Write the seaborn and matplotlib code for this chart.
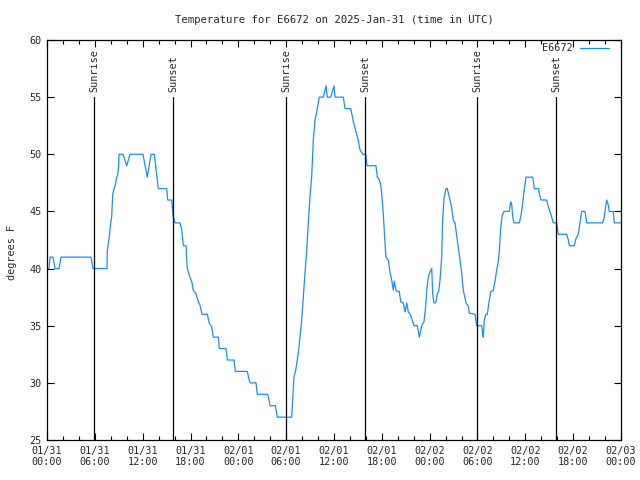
import numpy as np
import pandas as pd
import seaborn as sns
import matplotlib
matplotlib.use("Agg")
import matplotlib.pyplot as plt
from matplotlib.ticker import MultipleLocator

# hours since 2025-01-31 00:00 UTC
hours = [0, 0.25, 0.38, 0.75, 1.00, 1.51, 1.76, 5.52, 5.77, 7.53,
         7.56, 7.81, 7.99, 8.12, 8.24, 8.41, 8.57, 8.74, 8.87, 8.99,
         9.03, 9.53, 10.00, 10.41, 12.04, 12.58, 13.05, 13.46, 13.96, 15.01,
         15.14, 15.64, 15.84, 16.06, 16.68, 16.90, 17.10, 17.44, 17.52, 17.60,
         17.94, 18.15, 18.35, 18.69, 18.98, 19.19, 19.44, 20.11, 20.36, 20.66,
         20.86, 21.49, 21.61, 22.45, 22.62, 23.46, 23.62, 25.13, 25.30, 25.46,
         26.22, 26.38, 27.68, 27.85, 27.97, 28.64, 28.89, 30.69, 30.82, 30.98,
         31.20, 31.52, 31.74, 31.95, 32.15, 32.36, 32.58, 32.78, 32.99, 33.20,
         33.40, 33.62, 33.83, 34.16, 34.66, 35.00, 35.16, 35.59, 36.00, 36.13,
         37.17, 37.38, 38.09, 38.22, 38.42, 38.76, 39.05, 39.26, 39.60, 39.98,
         40.14, 41.27, 41.43, 41.68, 41.86, 41.98, 42.18, 42.40, 42.52, 42.81,
         43.02, 43.24, 43.44, 43.56, 43.78, 43.94, 44.19, 44.37, 44.69, 44.91,
         45.12, 45.32, 45.62, 45.87, 46.03, 46.45, 46.70, 47.00, 47.29, 47.50,
         47.63, 47.83, 48.04, 48.26, 48.38, 48.54, 48.76, 48.96, 49.13, 49.30,
         49.51, 49.63, 49.80, 50.05, 50.21, 50.46, 50.76, 50.96, 51.18, 51.46,
         51.72, 52.02, 52.22, 52.56, 52.85, 52.97, 53.69, 53.90, 54.53, 54.65,
         54.73, 54.85, 55.06, 55.23, 55.48, 55.69, 55.98, 56.20, 56.41, 56.61,
         56.74, 56.91, 57.11, 57.33, 57.99, 58.17, 58.30, 58.42, 58.58, 59.24,
         59.42, 59.67, 59.83, 60.08, 60.93, 61.13, 61.63, 61.84, 61.97, 62.68,
         62.88, 63.10, 63.31, 63.51, 63.93, 64.13, 65.19, 65.39, 65.52, 66.14,
         66.36, 66.64, 66.86, 67.07, 67.48, 67.70, 69.70, 69.87, 69.99, 70.20,
         70.41, 70.53, 71.03, 71.16, 72.00]

temps = [40, 40, 41, 41, 40, 40, 41, 41, 40, 40,
         41.5, 42.8, 44, 44.6, 46.5, 47, 47.3, 48, 48.2, 49,
         50, 50, 49, 50, 50, 48, 50, 50, 47, 47,
         46, 46, 44.5, 44, 44, 43.4, 42, 42, 41, 40,
         39.2, 38.9, 38.1, 37.8, 37.1, 36.8, 36, 36, 35.2, 34.9,
         34, 34, 33, 33, 32, 32, 31, 31, 30.4, 30,
         30, 29, 29, 28.5, 28, 28, 27, 27, 28.5, 30.5,
         31.1, 32.6, 34, 35.5, 37.5, 39.6, 41.6, 44, 46.3, 48,
         51.2, 53, 53.7, 55, 55, 56, 55, 55, 56, 55,
         55, 54, 54, 53.6, 52.9, 52, 51.2, 50.4, 50, 50,
         49, 49, 48, 47.8, 47.3, 46.6, 44.8, 42.2, 41, 40.75,
         39.7, 39, 38.1, 38.9, 38.1, 38, 38, 37.1, 37, 36.2,
         37, 36.2, 35.9, 35.35, 35, 35, 34, 35, 35.35, 36.7,
         38.1, 39.3, 39.7, 40, 37.8, 37, 37, 37.8, 38, 39,
         41, 44.25, 46.15, 47, 47, 46.3, 45.3, 44.25, 44, 42.5,
         41.2, 39.6, 38.1, 37, 36.7, 36.1, 36, 35, 35, 34.3,
         34, 35.5, 36, 36, 37.25, 38, 38.1, 38.9, 39.9, 40.6,
         41.6, 43.5, 44.7, 45, 45, 45.85, 45.56, 44.5, 44, 44,
         44.5, 45.7, 46.7, 48, 48, 47, 47, 46.3, 46, 46,
         45.4, 45, 44.5, 44, 44, 43, 43, 42.5, 42, 42,
         42.65, 43, 44, 45, 45, 44, 44, 44.4, 45, 46,
         45.56, 45, 45, 44, 44]

sunrise_hours = [5.90, 29.98, 53.94]
sunset_hours = [15.81, 39.89, 63.85]

tick_hours = [0, 6, 12, 18, 24, 30, 36, 42, 48, 54, 60, 66, 72]
tick_labels = ["01/31\n00:00", "01/31\n06:00", "01/31\n12:00", "01/31\n18:00",
               "02/01\n00:00", "02/01\n06:00", "02/01\n12:00", "02/01\n18:00",
               "02/02\n00:00", "02/02\n06:00", "02/02\n12:00", "02/02\n18:00",
               "02/03\n00:00"]

df = pd.DataFrame({"hour": hours, "temp": temps})

sns.set_style("ticks")
plt.rcParams['font.family'] = ['DejaVu Sans Mono']
plt.rcParams['font.size'] = 7.3

fig = plt.figure(figsize=(6.4, 4.8), dpi=100)
ax = fig.add_axes([47 / 640, 40 / 480, 574 / 640, 400 / 480])

sns.lineplot(data=df, x="hour", y="temp", ax=ax, color="#1a8cff",
             linewidth=0.9, label="E6672")

# sunrise / sunset markers
for h in sunrise_hours:
    ax.plot([h, h], [25, 55], color="black", linewidth=0.9)
    ax.text(h, 55.45, "Sunrise", rotation=90, ha="center", va="bottom")
for h in sunset_hours:
    ax.plot([h, h], [25, 55], color="black", linewidth=0.9)
    ax.text(h, 55.45, "Sunset", rotation=90, ha="center", va="bottom")

ax.set_xlim(0, 72)
ax.set_ylim(25, 60)
ax.set_xticks(tick_hours)
ax.set_xticklabels(tick_labels)
ax.xaxis.set_minor_locator(MultipleLocator(2))
ax.yaxis.set_major_locator(MultipleLocator(5))
ax.tick_params(which="both", direction="in", top=True, right=True,
               color="black", width=0.8)
ax.tick_params(which="major", length=5, pad=4)
ax.tick_params(which="minor", length=3)
for s in ax.spines.values():
    s.set_linewidth(0.9)
    s.set_color("black")

ax.set_xlabel("")
ax.set_ylabel("degrees F")
ax.yaxis.set_label_coords(-0.052, 0.47)
ax.set_title("Temperature for E6672 on 2025-Jan-31 (time in UTC)",
             fontsize=7.7, pad=12)

ax.legend(loc="upper right", frameon=False, markerfirst=False,
          handlelength=2.9, borderaxespad=0.3, handletextpad=0.7,
          bbox_to_anchor=(1 - 5 / 574, 1 + 4 / 400))

fig.savefig("out.png", dpi=100)
